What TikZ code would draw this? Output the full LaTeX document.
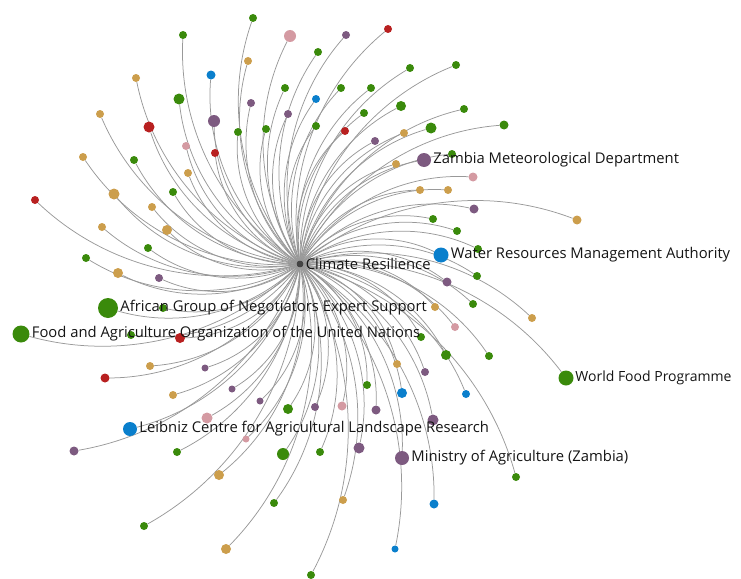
\documentclass[tikz,border=0pt]{standalone}
\usepackage{fontspec}
\setmainfont{Open Sans}
\usepackage{tikz}
\usetikzlibrary{positioning,backgrounds}
\definecolor{cgreen}{HTML}{3A8A0B}
\definecolor{ctan}{HTML}{CC9E4C}
\definecolor{cblue}{HTML}{0A7FCC}
\definecolor{cpurple}{HTML}{7D5A80}
\definecolor{cred}{HTML}{B82020}
\definecolor{cpink}{HTML}{D49AA2}
\definecolor{chub}{HTML}{444444}
\definecolor{cedge}{HTML}{999999}
\tikzset{
  dot/.style={circle,fill=#1,inner sep=0pt,minimum size=8pt},
  link/.style={draw=cedge,line width=0.75pt,bend left=30,looseness=0.91},
  lab/.style={inner sep=1pt,text=black!92,font=\fontsize{14.8}{17}\selectfont}
}
\begin{document}
\begin{tikzpicture}[x=1pt,y=1pt]
\useasboundingbox (0,0) rectangle (741,-578);
% hub
\node[dot=chub,minimum size=7pt] (cr) at (300,-264) {};
% named partners
\node[dot=cpurple,minimum size=14pt] (zmd) at (424,-160) {};
\node[dot=cblue,minimum size=15pt] (wrma) at (441,-255) {};
\node[dot=cgreen,minimum size=20pt] (agnes) at (108,-308) {};
\node[dot=cgreen,minimum size=17pt] (fao) at (21,-334) {};
\node[dot=cblue,minimum size=14pt] (leibniz) at (130,-429) {};
\node[dot=cpurple,minimum size=14pt] (moa) at (402,-458) {};
\node[dot=cgreen,minimum size=15pt] (wfp) at (566,-378) {};
\begin{scope}[on background layer]
\foreach \p in {zmd,wrma,agnes,fao,leibniz,moa,wfp}
  \draw[link] (cr) to (\p);
\end{scope}
% other partners: x/y/colour/size
\foreach \x/\y/\c/\s [count=\i] in {
  253/18/cgreen/8, 183/35/cgreen/8, 318/52/cgreen/8, 410/68/cgreen/8,
  456/65/cgreen/8, 285/88/cgreen/8, 341/88/cgreen/8, 371/88/cgreen/8,
  364/113/cgreen/8, 464/109/cgreen/8, 266/129/cgreen/8, 316/126/cgreen/8,
  238/132/cgreen/8, 134/160/cgreen/8, 173/192/cgreen/8, 452/154/cgreen/8,
  433/219/cgreen/8, 457/231/cgreen/8, 478/249/cgreen/8, 477/276/cgreen/8,
  148/248/cgreen/8, 86/258/cgreen/8, 163/308/cgreen/8, 131/335/cgreen/8,
  473/304/cgreen/8, 421/337/cgreen/8, 489/356/cgreen/8, 367/385/cgreen/8,
  320/452/cgreen/8, 274/503/cgreen/8, 177/452/cgreen/8, 144/526/cgreen/8,
  311/575/cgreen/8, 516/477/cgreen/8, 504/125/cgreen/9,
  179/99/cgreen/11, 401/106/cgreen/10, 431/128/cgreen/11, 446/355/cgreen/10,
  288/409/cgreen/10, 283/454/cgreen/12,
  248/61/ctan/8, 136/78/ctan/8, 100/114/ctan/8, 83/157/ctan/8,
  188/173/ctan/8, 152/207/ctan/8, 102/227/ctan/8, 404/133/ctan/8,
  396/164/ctan/8, 420/190/ctan/8, 448/190/ctan/8, 435/307/ctan/8,
  397/364/ctan/8, 150/366/ctan/8, 173/395/ctan/8, 343/500/ctan/8,
  532/318/ctan/8, 577/220/ctan/9,
  114/194/ctan/11, 167/230/ctan/10, 118/273/ctan/10, 219/475/ctan/10,
  226/549/ctan/10,
  211/75/cblue/9, 316/99/cblue/8, 402/393/cblue/10, 466/394/cblue/8,
  434/504/cblue/9, 395/549/cblue/7,
  346/35/cpurple/8, 251/103/cpurple/8, 288/114/cpurple/8, 375/141/cpurple/8,
  474/209/cpurple/9, 447/282/cpurple/9, 159/278/cpurple/8, 205/368/cpurple/7,
  232/389/cpurple/7, 74/451/cpurple/9, 260/401/cpurple/7, 315/407/cpurple/8,
  376/410/cpurple/9, 425/372/cpurple/8,
  214/121/cpurple/12, 433/420/cpurple/11, 359/448/cpurple/11,
  388/29/cred/8, 149/127/cred/11, 215/153/cred/8, 345/131/cred/8,
  35/200/cred/8, 180/338/cred/10, 105/378/cred/9,
  290/36/cpink/12, 186/146/cpink/8, 473/177/cpink/9, 455/327/cpink/8,
  342/406/cpink/9, 207/418/cpink/11, 246/439/cpink/7}
{
  \node[dot=\c,minimum size=\s pt] (n\i) at (\x,-\y) {};
  \begin{pgfonlayer}{background}
    \draw[link] (cr) to (n\i);
  \end{pgfonlayer}
}
% labels
\node[lab,right=1pt of cr] (cr-l) {Climate Resilience};
\node[lab,right=1pt of zmd] (zmd-l) {Zambia Meteorological Department};
\node[lab,right=1pt of wrma] (wrma-l) {Water Resources Management Authority};
\node[lab,right=1pt of agnes] (agnes-l) {African Group of Negotiators Expert Support};
\node[lab,right=1pt of fao] (fao-l) {Food and Agriculture Organization of the United Nations};
\node[lab,right=1pt of leibniz] (leibniz-l) {Leibniz Centre for Agricultural Landscape Research};
\node[lab,right=1pt of moa] (moa-l) {Ministry of Agriculture (Zambia)};
\node[lab,font=\fontsize{14}{16}\selectfont,right=0.5pt of wfp] (wfp-l) {World Food Programme};
\end{tikzpicture}
\end{document}
